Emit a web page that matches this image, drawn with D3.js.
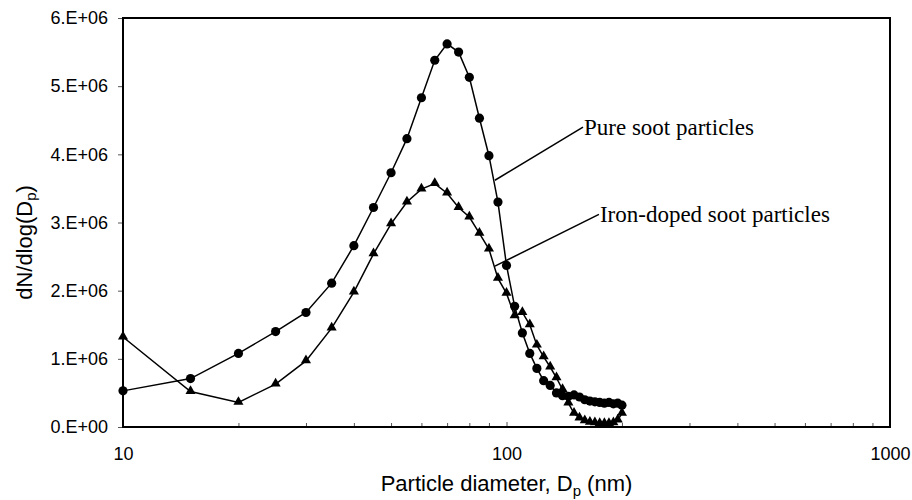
<!DOCTYPE html>
<html>
<head>
<meta charset="utf-8">
<script src="https://cdn.jsdelivr.net/npm/d3@7"></script>
<style>
  html, body { margin: 0; padding: 0; background: #fff; }
  svg { display: block; }
</style>
</head>
<body>
<svg id="chart" width="912" height="500"></svg>
<script>
// ---- data ----
const diameters = [10, 15, 20, 25, 30, 35, 40, 45, 50, 55, 60, 65, 70, 75, 80, 85, 90, 95, 100,
                   105, 110, 115, 120, 125, 130, 135, 140, 145, 150, 155, 160, 165, 170, 175, 180, 185, 190, 195, 200];
const pureSoot = [0.53, 0.71, 1.08, 1.40, 1.68, 2.11, 2.66, 3.22, 3.73, 4.23, 4.83, 5.38, 5.62, 5.50, 5.13, 4.53, 3.98, 3.30, 2.37,
                  1.77, 1.38, 1.08, 0.86, 0.68, 0.61, 0.50, 0.46, 0.45, 0.47, 0.44, 0.40, 0.38, 0.37, 0.36, 0.35, 0.36, 0.34, 0.35, 0.32]
                  .map(v => v * 1e6);
const ironSoot = [1.32, 0.52, 0.36, 0.63, 0.97, 1.45, 1.98, 2.54, 2.98, 3.30, 3.49, 3.57, 3.43, 3.22, 3.08, 2.84, 2.61, 2.18, 1.96,
                  1.63, 1.68, 1.50, 1.20, 1.03, 0.88, 0.72, 0.55, 0.35, 0.20, 0.13, 0.09, 0.07, 0.06, 0.05, 0.05, 0.05, 0.06, 0.10, 0.20]
                  .map(v => v * 1e6);
const yTicks = [0, 1e6, 2e6, 3e6, 4e6, 5e6, 6e6];
const yTickLabels = ["0.E+00", "1.E+06", "2.E+06", "3.E+06", "4.E+06", "5.E+06", "6.E+06"];
const xMajorTicks = [10, 100, 1000];
const xMinorTicks = [20, 30, 40, 50, 60, 70, 80, 90, 200, 300, 400, 500, 600, 700, 800, 900];
const annotations = [
  { label: "Pure soot particles",       from: [93.3, 3.62e6], to: [158.3, 4.40e6] },
  { label: "Iron-doped soot particles", from: [93.3, 2.36e6], to: [174.2, 3.12e6] }
];

// ---- layout ----
const margin = { left: 123, right: 22, top: 18, bottom: 73 };
const W = 912, H = 500;
const svg = d3.select("#chart");
const x = d3.scaleLog().domain([10, 1000]).range([margin.left, W - margin.right]);
const y = d3.scaleLinear().domain([0, 6e6]).range([H - margin.bottom, margin.top]);

const sans = "'Liberation Sans', Arial, sans-serif";
const serif = "'Liberation Serif', 'Times New Roman', serif";

// y axis ticks + labels
const yAxis = d3.axisLeft(y).tickValues(yTicks).tickSize(5).tickPadding(10)
  .tickFormat((d, i) => yTickLabels[i]);
const gy = svg.append("g").attr("transform", `translate(${margin.left},0)`).call(yAxis);
gy.select(".domain").remove();
gy.selectAll(".tick line").attr("stroke", "#555").attr("stroke-width", 1);
gy.selectAll(".tick text").attr("font-family", sans).attr("font-size", 18).attr("fill", "#000");

// x axis ticks (inward) + labels
const xAxisMajor = d3.axisBottom(x).tickValues(xMajorTicks).tickSize(-5).tickPadding(20)
  .tickFormat(d3.format("d"));
const gx = svg.append("g").attr("transform", `translate(0,${H - margin.bottom})`).call(xAxisMajor);
gx.select(".domain").remove();
gx.selectAll(".tick line").attr("stroke", "#555").attr("stroke-width", 1);
gx.selectAll(".tick text").attr("font-family", sans).attr("font-size", 18).attr("fill", "#000");
const xAxisMinor = d3.axisBottom(x).tickValues(xMinorTicks).tickSize(-4).tickFormat("");
const gxm = svg.append("g").attr("transform", `translate(0,${H - margin.bottom})`).call(xAxisMinor);
gxm.select(".domain").remove();
gxm.selectAll(".tick line").attr("stroke", "#555").attr("stroke-width", 1);

// plot frame
svg.append("rect")
  .attr("x", x(10)).attr("y", y(6e6))
  .attr("width", x(1000) - x(10)).attr("height", y(0) - y(6e6))
  .attr("fill", "none").attr("stroke", "#000").attr("stroke-width", 2);

// series
const line = d3.line().x(d => x(d[0])).y(d => y(d[1]));
const pureData = diameters.map((d, i) => [d, pureSoot[i]]);
const ironData = diameters.map((d, i) => [d, ironSoot[i]]);

svg.append("path").datum(pureData).attr("d", line)
  .attr("fill", "none").attr("stroke", "#000").attr("stroke-width", 1.5);
svg.append("path").datum(ironData).attr("d", line)
  .attr("fill", "none").attr("stroke", "#000").attr("stroke-width", 1.5);

svg.append("g").selectAll("circle").data(pureData).join("circle")
  .attr("cx", d => x(d[0])).attr("cy", d => y(d[1])).attr("r", 4.6).attr("fill", "#000");

const tri = d3.symbol().type(d3.symbolTriangle).size(44);
svg.append("g").selectAll("path").data(ironData).join("path")
  .attr("d", tri)
  .attr("transform", d => `translate(${x(d[0])},${y(d[1]) - 0.5})`)
  .attr("fill", "#000");

// annotations
annotations.forEach(a => {
  svg.append("line")
    .attr("x1", x(a.from[0])).attr("y1", y(a.from[1]))
    .attr("x2", x(a.to[0])).attr("y2", y(a.to[1]))
    .attr("stroke", "#000").attr("stroke-width", 1.5);
  svg.append("text")
    .attr("x", x(a.to[0]) + 1).attr("y", y(a.to[1]) + 8)
    .attr("font-family", serif).attr("font-size", 23).attr("fill", "#000")
    .text(a.label);
});

// axis titles
const xt = svg.append("text")
  .attr("x", (x(10) + x(1000)) / 2).attr("y", 491)
  .attr("text-anchor", "middle").attr("font-family", sans).attr("font-size", 22).attr("fill", "#000");
xt.append("tspan").text("Particle diameter, D");
xt.append("tspan").attr("font-size", 15).attr("dy", 5).text("p");
xt.append("tspan").attr("dy", -5).text(" (nm)");

const yt = svg.append("text")
  .attr("transform", `translate(32,${(y(0) + y(6e6)) / 2 + 20}) rotate(-90)`)
  .attr("text-anchor", "middle").attr("font-family", sans).attr("font-size", 22).attr("fill", "#000");
yt.append("tspan").text("dN/dlog(D");
yt.append("tspan").attr("font-size", 15).attr("dy", 4).text("p");
yt.append("tspan").attr("dy", -4).text(")");
</script>
</body>
</html>
